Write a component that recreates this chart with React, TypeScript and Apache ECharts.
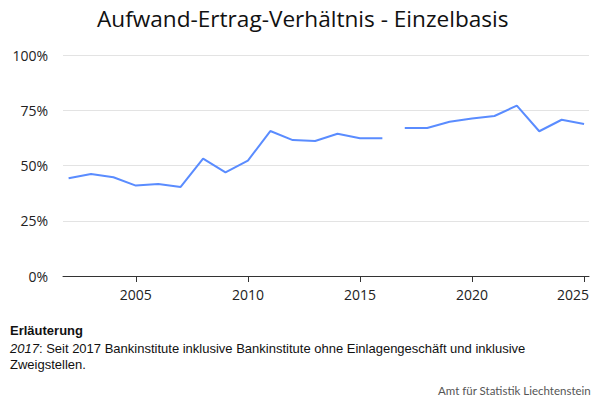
import React from 'react';
import * as echarts from 'echarts';

const years = [
  2002, 2003, 2004, 2005, 2006, 2007, 2008, 2009, 2010, 2011, 2012, 2013,
  2014, 2015, 2016, 2017, 2018, 2019, 2020, 2021, 2022, 2023, 2024, 2025,
];
// Anteil in Prozent, je Jahr
const ratio = [
  44.2, 46.2, 44.7, 40.9, 41.6, 40.3, 53.1, 46.9, 52.2, 65.6, 61.5, 61.1,
  64.4, 62.3, 62.3, 67.0, 67.0, 69.8, 71.3, 72.4, 77.1, 65.5, 70.7, 68.8,
];
// Bruch in der Reihe vor diesem Jahr (Methodik ab 2017)
const breakBefore = 2017;
const xTicks = [2005, 2010, 2015, 2020, 2025];
const yTicks = [0, 25, 50, 75, 100];

const title = 'Aufwand-Ertrag-Verhältnis - Einzelbasis';
const noteHead = 'Erläuterung';
const noteYear = '2017';
const noteLine1 = ': Seit 2017 Bankinstitute inklusive Bankinstitute ohne Einlagengeschäft und inklusive';
const noteLine2 = 'Zweigstellen.';
const source = 'Amt für Statistik Liechtenstein';

const FONT = '"Open Sans", sans-serif';
const NOTE_FONT = '"Liberation Sans", Arial, sans-serif';

export default function App() {
  const chartRef = React.useRef<HTMLDivElement>(null);

  React.useEffect(() => {
    document.body.style.margin = '0';
    if (!chartRef.current) return;
    const chart = echarts.init(chartRef.current, undefined, { renderer: 'svg' });

    // Jahre und Werte zusammenführen, mit Lücke vor dem Bruchjahr
    const points: (number | null)[][] = [];
    years.forEach((y, i) => {
      if (y === breakBefore) points.push([y - 0.5, null]);
      points.push([y, ratio[i]]);
    });
    const lastTick = xTicks[xTicks.length - 1];

    chart.setOption({
      animation: false,
      textStyle: { fontFamily: FONT },
      title: {
        text: title,
        left: 97,
        top: 7,
        padding: 0,
        textStyle: { fontFamily: FONT, fontSize: 22.6, fontWeight: 'normal', color: '#111' },
      },
      grid: { left: 63, right: 11, top: 55, bottom: 124 },
      xAxis: {
        type: 'value',
        min: 2001.75,
        max: 2025.22,
        splitLine: { show: false },
        axisLine: { lineStyle: { color: '#333', width: 1 } },
        axisTick: { show: true, length: 6, customValues: xTicks, lineStyle: { color: '#333' } },
        axisLabel: {
          customValues: xTicks,
          color: '#222',
          fontSize: 14,
          margin: 11,
          fontFamily: FONT,
          // letztes Label bleibt innerhalb der Fläche
          formatter: (v: number) => (v === lastTick ? '{last|' + v + '}' : String(v)),
          rich: {
            last: { fontSize: 14, fontFamily: FONT, color: '#222', padding: [0, 22, 0, 0] },
          },
        },
      },
      yAxis: {
        type: 'value',
        min: 0,
        max: 100,
        interval: 25,
        axisLine: { show: false },
        axisTick: { show: false },
        splitLine: { lineStyle: { color: '#e3e3e3' } },
        axisLabel: {
          customValues: yTicks,
          color: '#222',
          fontSize: 14,
          margin: 15,
          fontFamily: FONT,
          formatter: (v: number) => v + '%',
        },
      },
      series: [
        {
          type: 'line',
          data: points,
          showSymbol: false,
          connectNulls: false,
          lineStyle: { color: '#5a8cff', width: 2 },
          itemStyle: { color: '#5a8cff' },
        },
      ],
      graphic: [
        {
          type: 'text',
          left: 10,
          top: 324,
          style: {
            text: noteHead,
            fontFamily: NOTE_FONT,
            fontSize: 13,
            fontWeight: 'bold',
            fill: '#111',
          },
        },
        {
          type: 'text',
          left: 10,
          top: 340,
          style: {
            text: '{i|' + noteYear + '}' + noteLine1 + '\n' + noteLine2,
            fontFamily: NOTE_FONT,
            fontSize: 13,
            lineHeight: 16,
            fill: '#111',
            rich: {
              i: {
                fontStyle: 'italic',
                fontFamily: NOTE_FONT,
                fontSize: 13,
                lineHeight: 16,
                fill: '#111',
              },
            },
          },
        },
        {
          type: 'text',
          right: 9,
          top: 384,
          style: {
            text: source,
            fontFamily: 'Lato, sans-serif',
            fontSize: 11.5,
            fill: '#555',
          },
        },
      ],
    });

    return () => {
      chart.dispose();
    };
  }, []);

  return <div ref={chartRef} style={{ width: 600, height: 400 }} />;
}
